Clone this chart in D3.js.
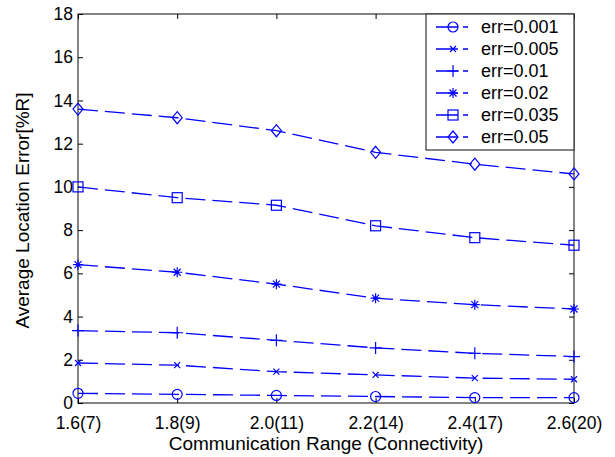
<!DOCTYPE html>
<html>
<head>
<meta charset="utf-8">
<script src="https://cdnjs.cloudflare.com/ajax/libs/d3/7.8.5/d3.min.js"></script>
<style>
  body { margin: 0; background: #fff; }
  text { font-family: "Liberation Sans", Arial, sans-serif; fill: #000; }
</style>
</head>
<body>
<svg id="chart" width="615" height="457"></svg>
<script>
// communication range (connectivity) categories
var categories = ["1.6(7)", "1.8(9)", "2.0(11)", "2.2(14)", "2.4(17)", "2.6(20)"];
var yTicks = [0, 2, 4, 6, 8, 10, 12, 14, 16, 18];

// average location error per ranging error level
var err001 = [0.45, 0.4, 0.35, 0.3, 0.25, 0.25];
var err005 = [1.85, 1.75, 1.45, 1.3, 1.15, 1.1];
var err01 = [3.35, 3.25, 2.9, 2.55, 2.3, 2.15];
var err02 = [6.4, 6.05, 5.5, 4.85, 4.55, 4.35];
var err035 = [10.0, 9.5, 9.15, 8.2, 7.65, 7.3];
var err05 = [13.6, 13.2, 12.6, 11.6, 11.05, 10.6];

var seriesNames = ["err=0.001", "err=0.005", "err=0.01", "err=0.02", "err=0.035", "err=0.05"];
var seriesValues = [err001, err005, err01, err02, err035, err05];
var markerTypes = ["circle", "x", "plus", "star", "square", "diamond"];

var margin = {left: 78, top: 14, right: 41, bottom: 54};
var width = 615 - margin.left - margin.right,
    height = 457 - margin.top - margin.bottom;
var blue = "#0000ff";

var svg = d3.select("#chart");
var g = svg.append("g")
        .attr("transform", "translate(" + margin.left + "," + margin.top + ")");

var x = d3.scalePoint()
        .domain(categories)
        .range([0, width]);

var y = d3.scaleLinear()
        .domain([0, 18])
        .range([height, 0]);

// box
g.append("rect")
        .attr("width", width)
        .attr("height", height)
        .attr("fill", "none")
        .attr("stroke", "#333")
        .attr("stroke-width", 1.2);

// axes with inward ticks
var xAxis = g.append("g")
        .attr("transform", "translate(0," + height + ")")
        .call(d3.axisBottom(x).tickSize(-5).tickPadding(14));
var xTop = g.append("g")
        .call(d3.axisTop(x).tickSize(-5).tickFormat(""));
var yAxis = g.append("g")
        .call(d3.axisLeft(y).tickValues(yTicks).tickSize(-5).tickPadding(5));
var yRight = g.append("g")
        .attr("transform", "translate(" + width + ",0)")
        .call(d3.axisRight(y).tickValues(yTicks).tickSize(-5).tickFormat(""));

[xAxis, xTop, yAxis, yRight].forEach(function (a) {
    a.select(".domain").remove();
    a.selectAll(".tick line").attr("stroke", "#000");
});
xAxis.selectAll("text").style("font-size", "17.5px");
yAxis.selectAll("text").style("font-size", "17.5px").attr("dy", "0.32em");

// axis titles
g.append("text")
        .attr("x", width / 2)
        .attr("y", height + 47)
        .attr("text-anchor", "middle")
        .style("font-size", "19px")
        .text("Communication Range (Connectivity)");

g.append("text")
        .attr("transform", "translate(-56," + (height / 2 + 2) + ") rotate(-90)")
        .attr("text-anchor", "middle")
        .attr("dy", "0.35em")
        .style("font-size", "19px")
        .text("Average Location Error[%R]");

function drawMarker(sel, type) {
    var s = 5;
    if (type === "circle") {
        sel.append("circle").attr("r", s);
    } else if (type === "square") {
        sel.append("rect").attr("x", -s).attr("y", -s).attr("width", 2 * s).attr("height", 2 * s);
    } else if (type === "diamond") {
        sel.append("path").attr("d", "M0," + (-s - 1) + "L" + s + ",0L0," + (s + 1) + "L" + (-s) + ",0Z");
    } else if (type === "plus") {
        sel.append("path").attr("d", "M" + (-s - 1) + ",0H" + (s + 1) + "M0," + (-s - 1) + "V" + (s + 1));
    } else if (type === "x") {
        sel.append("path").attr("d", "M-3,-3L3,3M-3,3L3,-3");
    } else if (type === "star") {
        sel.append("path").attr("d", "M-5,0H5M0,-5V5M-3.5,-3.5L3.5,3.5M-3.5,3.5L3.5,-3.5");
    }
    sel.selectAll("*").attr("fill", "none").attr("stroke", blue).attr("stroke-width", 1.2);
}

var line = d3.line()
        .x(function (d, i) { return x(categories[i]); })
        .y(function (d) { return y(d); });

seriesValues.forEach(function (vals, k) {
    g.append("path")
            .datum(vals)
            .attr("d", line)
            .attr("fill", "none")
            .attr("stroke", blue)
            .attr("stroke-width", 1.3)
            .attr("stroke-dasharray", "20,7");

    g.selectAll(".m" + k)
            .data(vals)
            .enter()
            .append("g")
            .attr("class", "m" + k)
            .attr("transform", function (d, i) {
                return "translate(" + x(categories[i]) + "," + y(d) + ")";
            })
            .each(function () {
                drawMarker(d3.select(this), markerTypes[k]);
            });
});

// legend
var legW = 148, legH = 136;
var leg = g.append("g")
        .attr("transform", "translate(" + (width - legW) + ",0)");
leg.append("rect")
        .attr("width", legW)
        .attr("height", legH)
        .attr("fill", "#fff")
        .attr("stroke", "#333")
        .attr("stroke-width", 1.2);

seriesNames.forEach(function (name, k) {
    var row = leg.append("g")
            .attr("transform", "translate(0," + (13 + k * 22) + ")");
    row.append("line")
            .attr("x1", 10).attr("x2", 42)
            .attr("stroke", blue)
            .attr("stroke-width", 1.3)
            .attr("stroke-dasharray", "22,5,5");
    drawMarker(row.append("g").attr("transform", "translate(27,0)"), markerTypes[k]);
    row.append("text")
            .attr("x", 55)
            .attr("dy", "0.36em")
            .style("font-size", "18px")
            .text(name);
});
</script>
</body>
</html>
